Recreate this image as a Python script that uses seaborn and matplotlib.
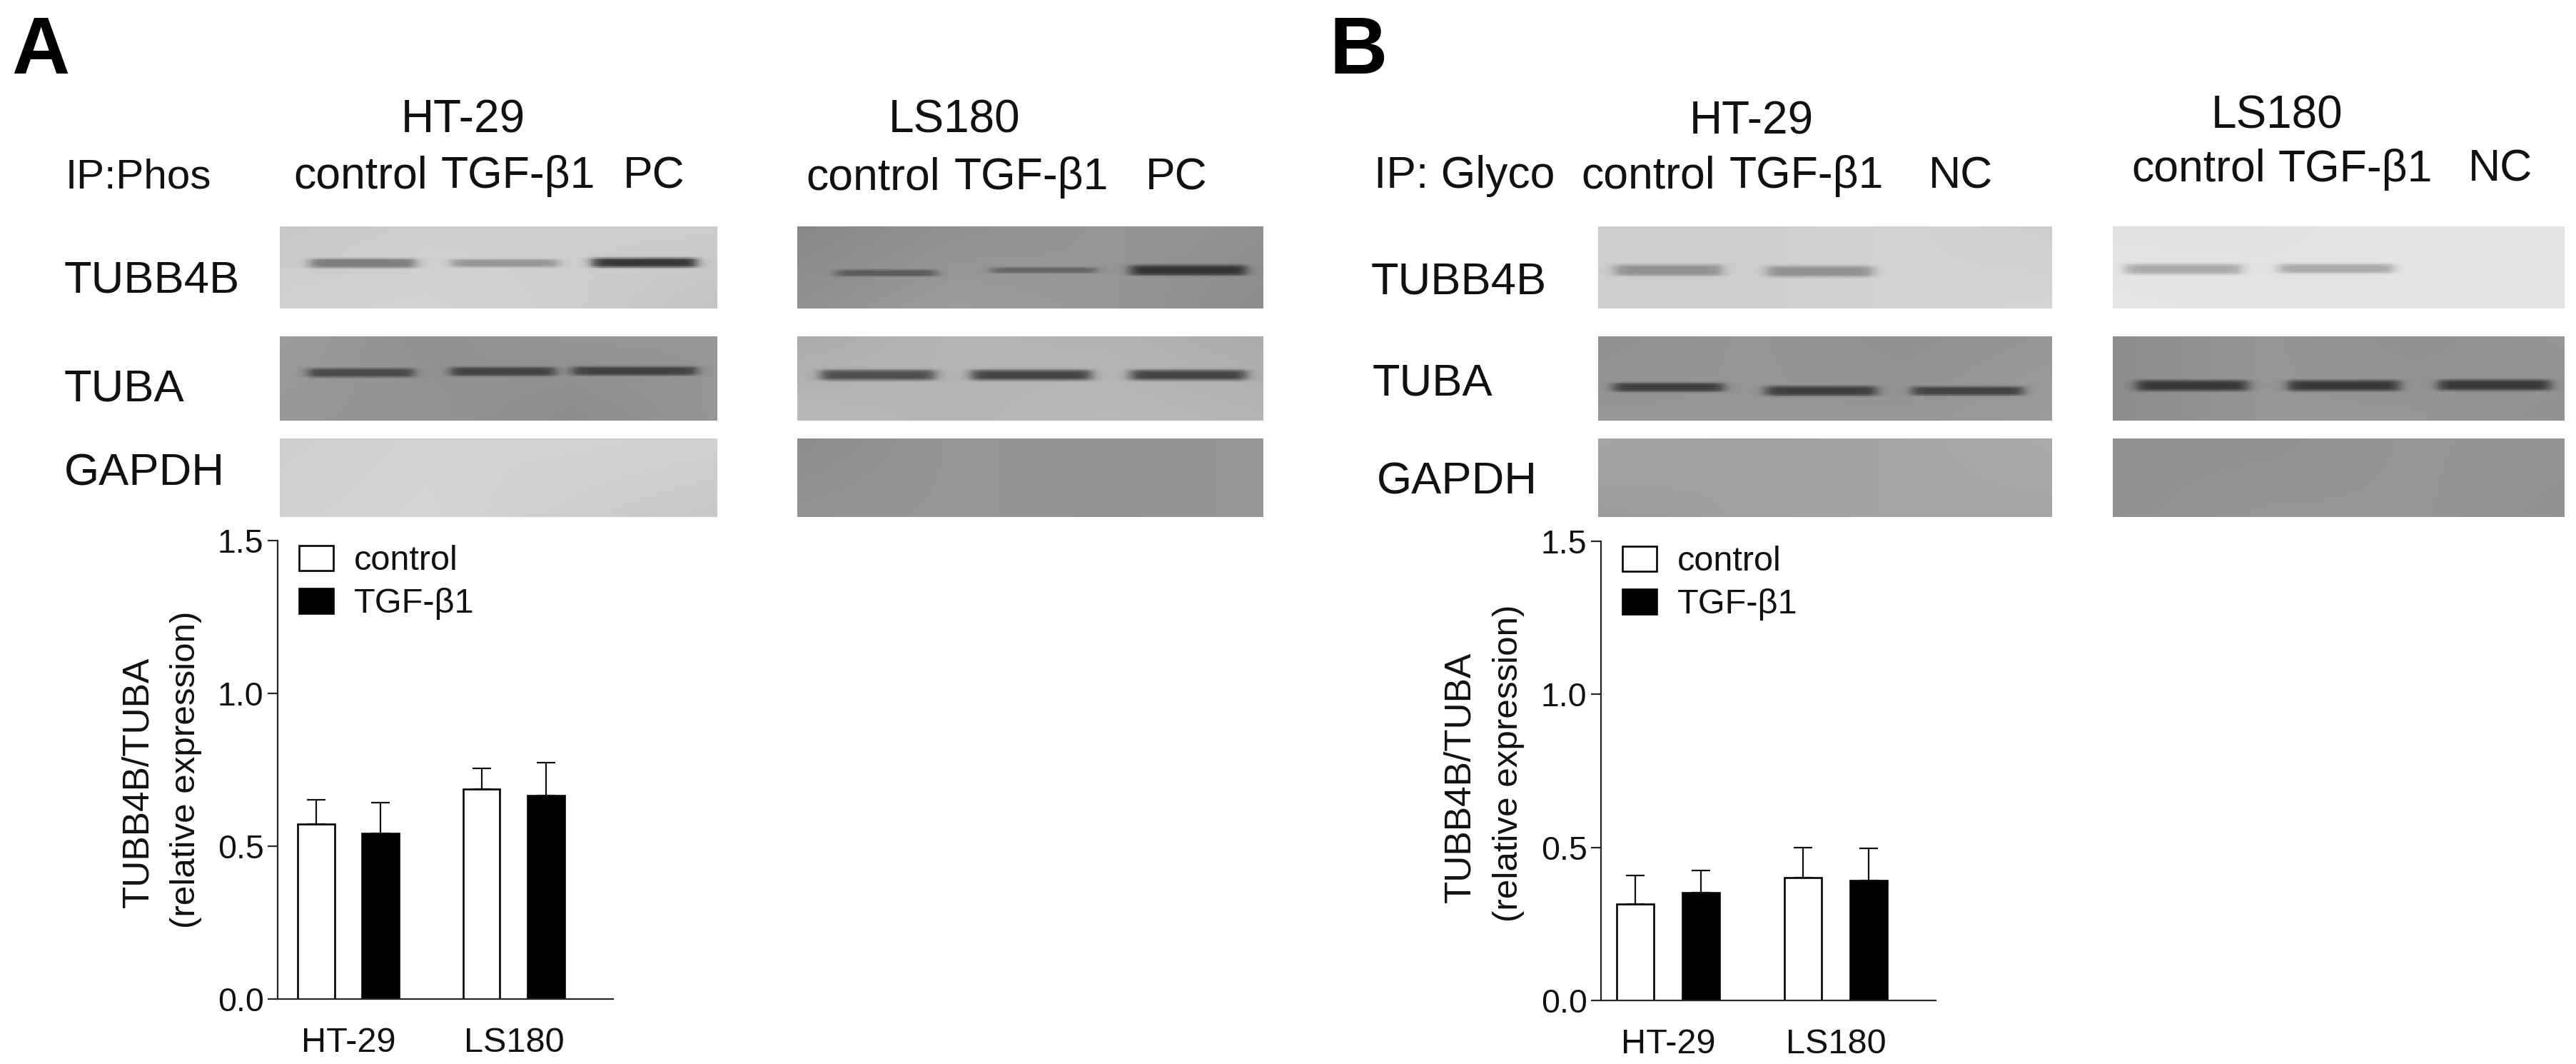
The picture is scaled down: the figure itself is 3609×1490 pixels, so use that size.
import numpy as np
import pandas as pd
import matplotlib
matplotlib.use("Agg")
import matplotlib.pyplot as plt
import seaborn as sns

sns.set_style("ticks")
plt.rcParams['font.family'] = ['Liberation Sans', 'DejaVu Sans']

W, H = 3609, 1490

cell_lines = ['HT-29', 'LS180']
treatments = ['control', 'TGF-β1']
yticks = [0.0, 0.5, 1.0, 1.5]

# bar heights and top of the error bars
a_control = [0.572, 0.687]
a_tgf = [0.541, 0.666]
a_control_top = [0.652, 0.755]
a_tgf_top = [0.642, 0.773]

b_control = [0.315, 0.401]
b_tgf = [0.353, 0.392]
b_control_top = [0.409, 0.500]
b_tgf_top = [0.425, 0.498]

# blots: background greys (top row, bottom row), then bands as
# (x0, x1, y centre, thickness, grey), fractions of the panel
a_ht29_tubb = ([[200, 205, 205, 205], [208, 210, 205, 195]],
	[(.067, .310, .447, .11, 125), (.393, .636, .447, .09, 150), (.716, .955, .440, .11, 55)])
a_ht29_tuba = ([[155, 145, 150, 150], [150, 148, 140, 150]],
	[(.063, .306, .430, .10, 72), (.390, .630, .416, .10, 65), (.669, .955, .410, .10, 65)])
a_ht29_gapdh = ([[205, 210, 210, 208], [208, 212, 205, 200]], [])
a_ls180_tubb = ([[135, 145, 150, 145], [145, 155, 150, 140]],
	[(.082, .298, .570, .08, 92), (.417, .643, .533, .07, 102), (.716, .965, .533, .12, 50)])
a_ls180_tuba = ([[170, 180, 178, 170], [185, 180, 185, 180]],
	[(.048, .294, .459, .12, 78), (.374, .630, .459, .12, 68), (.716, .965, .459, .12, 68)])
a_ls180_gapdh = ([[140, 150, 148, 150], [148, 150, 148, 150]], [])
b_ht29_tubb = ([[205, 205, 210, 205], [205, 205, 210, 212]],
	[(.035, .272, .533, .13, 145), (.372, .605, .548, .13, 145)])
b_ht29_tuba = ([[145, 150, 145, 150], [150, 150, 150, 155]],
	[(.033, .276, .606, .10, 62), (.369, .614, .649, .11, 62), (.693, .937, .649, .10, 65)])
b_ht29_gapdh = ([[165, 160, 165, 170], [155, 160, 165, 165]], [])
b_ls180_tubb = ([[225, 225, 228, 228], [230, 228, 228, 228]],
	[(.027, .284, .519, .12, 170), (.368, .622, .513, .11, 170)])
b_ls180_tuba = ([[140, 150, 145, 150], [140, 150, 150, 145]],
	[(.050, .298, .586, .12, 55), (.388, .635, .586, .12, 55), (.722, .970, .580, .12, 55)])
b_ls180_gapdh = ([[145, 145, 150, 148], [145, 150, 150, 145]], [])


def px_axes(fig, x0, y0, x1, y1):
	return fig.add_axes([x0 / W, 1 - y1 / H, (x1 - x0) / W, (y1 - y0) / H])


def label(fig, x, y, s, size=45, **kw):
	kw.setdefault('color', '#111111')
	fig.text(x / W, 1 - y / H, s, fontsize=size, va=kw.pop('va', 'baseline'), **kw)


def blot(fig, rect, data):
	bg, bands = data
	x0, y0, x1, y1 = rect
	xs = np.linspace(0, 1, 220)
	ys = np.linspace(0, 1, 80)
	knots = np.linspace(0, 1, len(bg[0]))
	top = np.interp(xs, knots, bg[0])
	bottom = np.interp(xs, knots, bg[1])
	img = np.outer(1 - ys, top) + np.outer(ys, bottom)
	for bx0, bx1, by, thick, grey in bands:
		across = 1 / (1 + np.exp((bx0 - xs) / .008)) * 1 / (1 + np.exp((xs - bx1) / .008))
		down = np.exp(-0.69 * ((ys - by) / (thick / 2)) ** 4)
		img += np.outer(down, across) * (grey - img)
	ax = px_axes(fig, x0, y0, x1, y1)
	sns.heatmap(img, ax=ax, cmap='gray', vmin=0, vmax=255, cbar=False,
		xticklabels=False, yticklabels=False)


def bars(fig, rect, xlim, control, tgf, control_top, tgf_top):
	ax = px_axes(fig, *rect)
	df = pd.DataFrame({
		'line': cell_lines * 2,
		'treatment': [treatments[0]] * 2 + [treatments[1]] * 2,
		'value': control + tgf,
	})
	sns.barplot(data=df, x='line', y='value', hue='treatment', order=cell_lines,
		hue_order=treatments, palette={'control': 'white', 'TGF-β1': 'black'},
		width=0.78, gap=0.43, saturation=1, edgecolor='black', linewidth=1.9, ax=ax)
	for cont, vals, tops in zip(ax.containers, [control, tgf], [control_top, tgf_top]):
		xc = [p.get_x() + p.get_width() / 2 for p in cont]
		up = [t - v for t, v in zip(tops, vals)]
		ax.errorbar(xc, vals, yerr=[[0] * len(up), up], fmt='none', ecolor='#111111',
			elinewidth=1.6, capsize=9.7, capthick=1.6, zorder=1)
	ax.set_xlim(*xlim)
	ax.set_ylim(0, 1.5)
	ax.set_yticks(yticks)
	ax.set_yticklabels(['%.1f' % t for t in yticks])
	ax.set_xlabel('')
	ax.set_ylabel('')
	ax.tick_params(axis='y', length=10, width=1.6, pad=4, labelsize=33.5, labelcolor='#111111')
	ax.tick_params(axis='x', length=0, pad=28, labelsize=35, labelcolor='#111111')
	sns.despine(ax=ax)
	ax.spines['left'].set_linewidth(1.6)
	ax.spines['bottom'].set_linewidth(1.6)
	ax.patch.set_alpha(0)
	handles, labels = ax.get_legend_handles_labels()
	ax.legend(handles, labels, loc='upper left', bbox_to_anchor=(0.064, 0.99), frameon=False,
		fontsize=35, handlelength=0.98, handleheight=0.73, handletextpad=0.6,
		labelspacing=0.3, borderpad=0, borderaxespad=0, labelcolor='#111111')
	return ax


fig = plt.figure(figsize=(W / 100, H / 100), dpi=100, facecolor='white')

rows = [(317, 432), (471, 589), (614, 724)]
for (y0, y1), left, right, b_left, b_right in zip(
		rows,
		[a_ht29_tubb, a_ht29_tuba, a_ht29_gapdh],
		[a_ls180_tubb, a_ls180_tuba, a_ls180_gapdh],
		[b_ht29_tubb, b_ht29_tuba, b_ht29_gapdh],
		[b_ls180_tubb, b_ls180_tuba, b_ls180_gapdh]):
	blot(fig, (392, y0, 1005, y1), left)
	blot(fig, (1117, y0, 1770, y1), right)
	blot(fig, (2239, y0, 2875, y1), b_left)
	blot(fig, (2960, y0, 3593, y1), b_right)

bars(fig, (389, 757, 859, 1399), (-0.427, 1.6), a_control, a_tgf, a_control_top, a_tgf_top)
bars(fig, (2243, 758, 2712, 1401), (-0.40, 1.596), b_control, b_tgf, b_control_top, b_tgf_top)

label(fig, 16, 103, 'A', size=81, fontweight='bold', color='black')
label(fig, 1862, 103, 'B', size=81, fontweight='bold', color='black')

# panel A captions
label(fig, 649, 185, 'HT-29', ha='center', size=46)
label(fig, 1337, 185, 'LS180', ha='center', size=46)
label(fig, 92, 263, 'IP:Phos', size=42)
label(fig, 411, 263, 'control')
label(fig, 618, 263, 'TGF-β1')
label(fig, 873, 263, 'PC')
label(fig, 1129, 265, 'control')
label(fig, 1337, 265, 'TGF-β1')
label(fig, 1605, 265, 'PC')
label(fig, 90, 409, 'TUBB4B', size=45.5)
label(fig, 90, 561, 'TUBA', size=45.5)
label(fig, 90, 679, 'GAPDH', size=45.5)

# panel B captions
label(fig, 2454, 187, 'HT-29', ha='center', size=46)
label(fig, 3190, 179, 'LS180', ha='center', size=46)
label(fig, 1925, 263, 'IP: Glyco')
label(fig, 2215, 263, 'control')
label(fig, 2423, 263, 'TGF-β1')
label(fig, 2702, 263, 'NC')
label(fig, 2986, 254, 'control')
label(fig, 3192, 254, 'TGF-β1')
label(fig, 3458, 254, 'NC')
label(fig, 1921, 411, 'TUBB4B', size=45.5)
label(fig, 1923, 553, 'TUBA', size=45.5)
label(fig, 1929, 691, 'GAPDH', size=45.5)

# y axis titles
label(fig, 194, 1095, 'TUBB4B/TUBA', size=37, rotation=90, ha='center', va='center')
label(fig, 260, 1078, '(relative expression)', size=35.5, rotation=90, ha='center', va='center')
label(fig, 2046, 1088, 'TUBB4B/TUBA', size=37, rotation=90, ha='center', va='center')
label(fig, 2113, 1069, '(relative expression)', size=35.5, rotation=90, ha='center', va='center')

fig.savefig('out.png', dpi=100, facecolor='white')
